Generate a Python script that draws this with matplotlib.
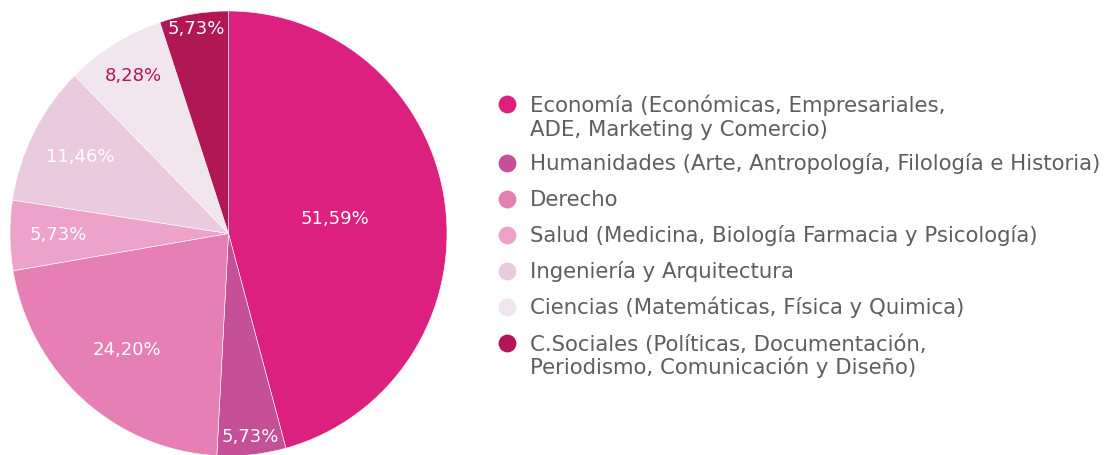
import numpy as np
import matplotlib
matplotlib.use('Agg')
import matplotlib.pyplot as plt

plt.rcParams['font.family'] = ['DejaVu Sans']

# datos
areas = ['Economía (Económicas, Empresariales,\nADE, Marketing y Comercio)',
         'Humanidades (Arte, Antropología, Filología e Historia)',
         'Derecho',
         'Salud (Medicina, Biología Farmacia y Psicología)',
         'Ingeniería y Arquitectura',
         'Ciencias (Matemáticas, Física y Quimica)',
         'C.Sociales (Políticas, Documentación,\nPeriodismo, Comunicación y Diseño)']
porcentajes = [51.59, 5.73, 24.20, 5.73, 11.46, 8.28, 5.73]
etiquetas = ['51,59%', '5,73%', '24,20%', '5,73%', '11,46%', '8,28%', '5,73%']
colores = ['#DC2080', '#C65097', '#E57FB4', '#EDA3C9', '#EACADF', '#F1E5EE', '#B01754']

# estilo de etiquetas (distancia radial y color)
dist_etq = [0.49, 0.92, 0.70, 0.78, 0.76, 0.83, 0.93]
col_etq = ['white', 'white', 'white', 'white', 'white', '#B01754', 'white']

W, H = 1117, 455
fig = plt.figure(figsize=(W/100, H/100), dpi=100)

# caja del pastel en píxeles (izq, der, arriba, abajo)
x0, x1, y0, y1 = 10, 447, 11, 456
ax = fig.add_axes([x0/W, (H-y1)/H, (x1-x0)/W, (y1-y0)/H])

wedges, _ = ax.pie(porcentajes, colors=colores, startangle=90, counterclock=False,
                   radius=1, wedgeprops=dict(edgecolor='white', linewidth=0.4))
ax.set_xlim(-1, 1)
ax.set_ylim(-1, 1)
ax.set_aspect('auto')
ax.axis('off')

for w, t, d, c in zip(wedges, etiquetas, dist_etq, col_etq):
    ang = np.deg2rad((w.theta1 + w.theta2)/2)
    ax.text(d*np.cos(ang), d*np.sin(ang), t, ha='center', va='center',
            fontsize=13, color=c)

# leyenda manual
lg = fig.add_axes([0, 0, 1, 1])
lg.set_xlim(0, W)
lg.set_ylim(H, 0)
lg.axis('off')
y = 104
for nombre, col in zip(areas, colores):
    lg.scatter([507], [y], s=165, color=col, linewidths=0)
    for i, linea in enumerate(nombre.split('\n')):
        lg.text(530, y + 7.5 + 24*i, linea, ha='left', va='baseline',
                fontsize=15.3, color='#5E5E5E')
    y += 36 + 23*nombre.count('\n')

fig.savefig('out.png', dpi=100)
